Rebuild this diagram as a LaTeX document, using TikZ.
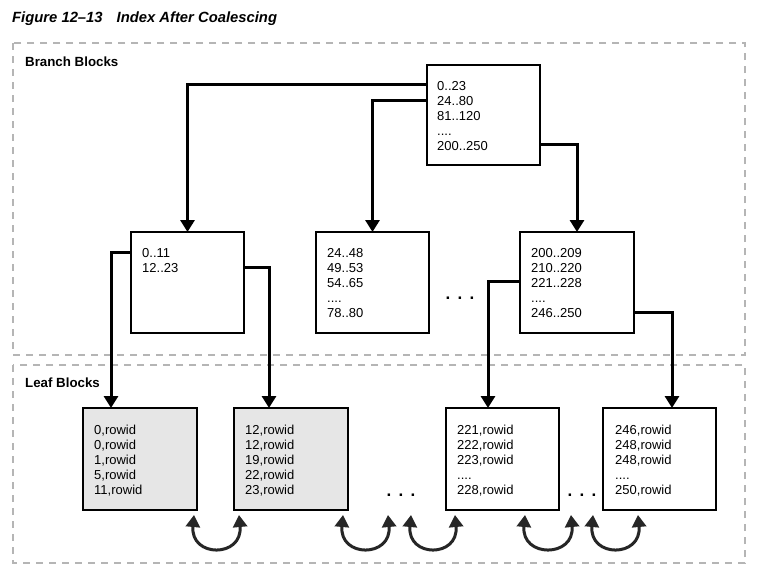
\documentclass[tikz,border=0pt]{standalone}
\usepackage{fontspec}
\setmainfont{Liberation Sans}
\usetikzlibrary{arrows.meta,calc}
\definecolor{dashgray}{HTML}{B5B5B5}
\definecolor{leafgray}{HTML}{E6E6E6}
\tikzset{
  blk/.style={draw=black, line width=2.5pt, inner sep=0pt, outer sep=0pt, anchor=north west, fill=white},
  shaded/.style={fill=leafgray},
  txt/.style={anchor=base west, inner sep=0pt, font=\fontsize{13}{15}\selectfont},
  link/.style={line width=3pt, -{Triangle[width=14pt,length=12pt]}},
  loopy/.style={line width=3pt, draw=black!85, {Triangle[width=14pt,length=12pt]}-{Triangle[width=14pt,length=12pt]}},
  region/.style={draw=dashgray, line width=2pt, dash pattern=on 7pt off 6pt},
  lbl/.style={anchor=base west, inner sep=0pt, font=\bfseries\fontsize{13.3}{15}\selectfont},
  dotsnode/.style={anchor=base, inner sep=0pt, font=\bfseries\fontsize{17}{18}\selectfont}
}
\newcommand{\blocklines}[1]{\parbox[t]{100pt}{#1}}
\newcommand{\widedots}{.\hspace{7.3pt}.\hspace{7.3pt}.}
\begin{document}
\begin{tikzpicture}[x=1pt,y=-1pt]
\useasboundingbox (0,0) rectangle (763,581);
\fill[white] (0,0) rectangle (763,581);

% title
\node[anchor=base west, inner sep=0pt, font=\bfseries\itshape\fontsize{14.8}{17}\selectfont] (title) at (12,22) {Figure 12–13\hspace{14pt}Index After Coalescing};

% regions
\draw[region] (13,43) rectangle (745,355);
\draw[region] (13,365) rectangle (745,563);
\node[lbl] (branchlbl) at (25,66) {Branch Blocks};
\node[lbl] (leaflbl) at (25,387) {Leaf Blocks};

% branch blocks
\node[blk, minimum width=113pt, minimum height=100pt] (root) at (427,65) {};
\node[blk, minimum width=113pt, minimum height=101pt] (b1) at (131,232) {};
\node[blk, minimum width=113pt, minimum height=101pt] (b2) at (316,232) {};
\node[blk, minimum width=114pt, minimum height=101pt] (b3) at (520,232) {};

\node[txt] (roott) at ($(root.north west)+(10,25.5)$) {\blocklines{0..23\\24..80\\81..120\\....\\200..250}};
\node[txt] (b1t) at ($(b1.north west)+(11,25)$) {\blocklines{0..11\\12..23}};
\node[txt] (b2t) at ($(b2.north west)+(11,25)$) {\blocklines{24..48\\49..53\\54..65\\....\\78..80}};
\node[txt] (b3t) at ($(b3.north west)+(11,25)$) {\blocklines{200..209\\210..220\\221..228\\....\\246..250}};

\node[dotsnode] (bdots) at (460,299.5) {\widedots};

% leaf blocks
\node[blk, shaded, minimum width=114pt, minimum height=102pt] (l1) at (83,408) {};
\node[blk, shaded, minimum width=114pt, minimum height=102pt] (l2) at (234,408) {};
\node[blk, minimum width=113pt, minimum height=102pt] (l3) at (446,408) {};
\node[blk, minimum width=113pt, minimum height=102pt] (l4) at (603,408) {};

\node[txt] (l1t) at ($(l1.north west)+(11,26)$) {\blocklines{0,rowid\\0,rowid\\1,rowid\\5,rowid\\11,rowid}};
\node[txt] (l2t) at ($(l2.north west)+(11,26)$) {\blocklines{12,rowid\\12,rowid\\19,rowid\\22,rowid\\23,rowid}};
\node[txt] (l3t) at ($(l3.north west)+(11,26)$) {\blocklines{221,rowid\\222,rowid\\223,rowid\\....\\228,rowid}};
\node[txt] (l4t) at ($(l4.north west)+(12,26)$) {\blocklines{246,rowid\\248,rowid\\248,rowid\\....\\250,rowid}};

\node[dotsnode] (ldots1) at (401,496.5) {\widedots};
\node[dotsnode] (ldots2) at (582,496.5) {\widedots};

% branch connectors
\draw[link] ($(root.north west)+(0,19)$) -| (b1.north);
\draw[link] ($(root.north west)+(0,35)$) -| (b2.north);
\draw[link] ($(root.north east)+(0,79)$) -| (b3.north);
\draw[link] ($(b1.north west)+(0,20)$) -| ($(l1.north west)+(28,0)$);
\draw[link] ($(b1.north east)+(0,35)$) -| ($(l2.north west)+(35,0)$);
\draw[link] ($(b3.north west)+(0,49)$) -| ($(l3.north west)+(42,0)$);
\draw[link] ($(b3.north east)+(0,80)$) -| ($(l4.north west)+(69,0)$);

% sibling links
\coordinate (f1) at (388,515);
\coordinate (f2) at (411,515);
\coordinate (f3) at (571,515);
\coordinate (f4) at (593,515);
\draw[loopy] ($(l1.south west)+(111,5)$) .. controls +(-4,43) and +(4,43) .. ($(l2.south west)+(5,5)$);
\draw[loopy] ($(l2.south west)+(109,5)$) .. controls +(-4,43) and +(4,43) .. (f1);
\draw[loopy] (f2) .. controls +(-4,43) and +(4,43) .. ($(l3.south west)+(9,5)$);
\draw[loopy] ($(l3.south west)+(79,5)$) .. controls +(-4,43) and +(4,43) .. (f3);
\draw[loopy] (f4) .. controls +(-4,43) and +(4,43) .. ($(l4.south west)+(35,5)$);
\end{tikzpicture}
\end{document}
